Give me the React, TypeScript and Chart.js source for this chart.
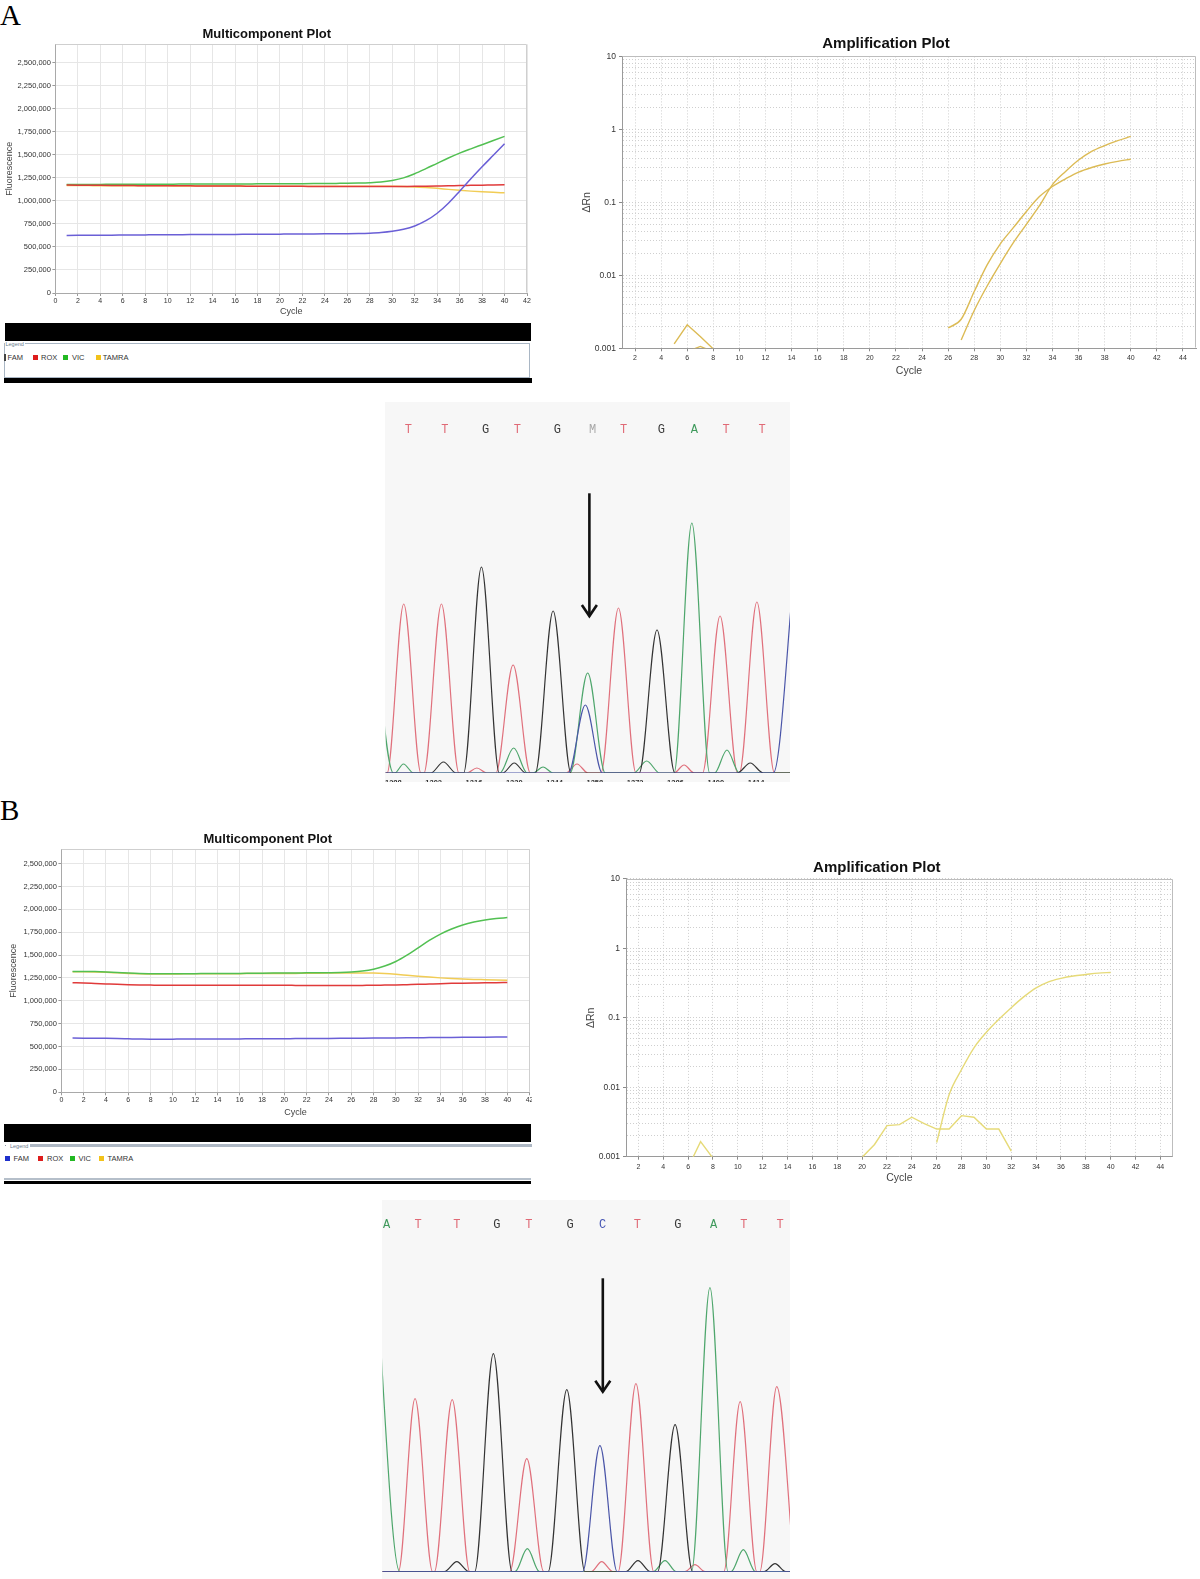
import React, { useEffect, useRef } from "react";
import { Chart, registerables } from "chart.js";

Chart.register(...registerables);

// ---------------- DATA ----------------
const CYCLES = [1, 2, 3, 4, 5, 6, 7, 8, 9, 10, 11, 12, 13, 14, 15, 16, 17, 18, 19, 20, 21, 22, 23, 24, 25, 26, 27, 28, 29, 30, 31, 32, 33, 34, 35, 36, 37, 38, 39, 40];
const MC_X_TICKS = [0, 2, 4, 6, 8, 10, 12, 14, 16, 18, 20, 22, 24, 26, 28, 30, 32, 34, 36, 38, 40, 42];
const MC_Y_TICKS = [0, 250000, 500000, 750000, 1000000, 1250000, 1500000, 1750000, 2000000, 2250000, 2500000];
const DYES = ["FAM", "ROX", "VIC", "TAMRA"];

// Panel A – multicomponent fluorescence
const A_FAM = [625000, 626000, 627000, 628000, 628000, 629000, 630000, 631000, 632000, 632000, 633000, 634000, 634000, 635000, 636000, 636000, 637000, 638000, 638000, 639000, 640000, 640000, 641000, 642000, 643000, 644000, 646000, 650000, 657000, 670000, 692000, 728000, 785000, 866000, 975000, 1105000, 1240000, 1370000, 1495000, 1620000];
const A_ROX = [1172000, 1171000, 1170000, 1169000, 1168000, 1167000, 1166000, 1165000, 1165000, 1164000, 1163000, 1163000, 1162000, 1162000, 1161000, 1161000, 1160000, 1160000, 1159000, 1159000, 1158000, 1158000, 1157000, 1157000, 1157000, 1156000, 1156000, 1156000, 1156000, 1156000, 1157000, 1158000, 1160000, 1162000, 1164000, 1167000, 1169000, 1171000, 1173000, 1175000];
const A_VIC = [1178000, 1178000, 1179000, 1179000, 1180000, 1180000, 1180000, 1181000, 1181000, 1181000, 1182000, 1182000, 1182000, 1183000, 1183000, 1184000, 1184000, 1185000, 1185000, 1186000, 1186000, 1187000, 1188000, 1189000, 1190000, 1191000, 1193000, 1197000, 1205000, 1222000, 1250000, 1295000, 1350000, 1408000, 1465000, 1518000, 1565000, 1610000, 1655000, 1700000];
const A_TAMRA = [1168000, 1167000, 1166000, 1165000, 1165000, 1164000, 1164000, 1163000, 1163000, 1163000, 1162000, 1162000, 1162000, 1161000, 1161000, 1161000, 1160000, 1160000, 1160000, 1160000, 1160000, 1160000, 1160000, 1160000, 1160000, 1160000, 1160000, 1159000, 1159000, 1158000, 1156000, 1152000, 1145000, 1136000, 1125000, 1115000, 1106000, 1099000, 1093000, 1088000];

// Panel B – multicomponent fluorescence
const B_FAM = [593000, 592000, 591000, 590000, 588000, 585000, 582000, 580000, 580000, 581000, 582000, 582000, 583000, 583000, 584000, 584000, 585000, 585000, 586000, 586000, 587000, 587000, 588000, 589000, 590000, 591000, 592000, 593000, 594000, 595000, 596000, 597000, 598000, 599000, 600000, 601000, 602000, 603000, 604000, 605000];
const B_ROX = [1198000, 1195000, 1190000, 1185000, 1180000, 1176000, 1173000, 1172000, 1171000, 1171000, 1171000, 1171000, 1171000, 1171000, 1171000, 1170000, 1170000, 1170000, 1170000, 1170000, 1169000, 1168000, 1168000, 1168000, 1168000, 1168000, 1169000, 1170000, 1172000, 1174000, 1177000, 1180000, 1184000, 1188000, 1191000, 1193000, 1195000, 1197000, 1198000, 1200000];
const B_VIC = [1322000, 1322000, 1320000, 1316000, 1310000, 1303000, 1298000, 1296000, 1295000, 1295000, 1296000, 1297000, 1298000, 1299000, 1300000, 1300000, 1301000, 1302000, 1303000, 1304000, 1305000, 1306000, 1307000, 1308000, 1310000, 1315000, 1325000, 1345000, 1380000, 1430000, 1500000, 1580000, 1660000, 1730000, 1785000, 1830000, 1862000, 1885000, 1900000, 1910000];
const B_TAMRA = [1318000, 1318000, 1316000, 1312000, 1306000, 1300000, 1296000, 1294000, 1294000, 1294000, 1295000, 1295000, 1296000, 1296000, 1297000, 1297000, 1298000, 1298000, 1299000, 1299000, 1300000, 1301000, 1302000, 1303000, 1304000, 1305000, 1305000, 1303000, 1298000, 1290000, 1280000, 1270000, 1260000, 1251000, 1244000, 1238000, 1234000, 1231000, 1228000, 1225000];

// Amplification plots (ΔRn, log scale)
const AMP_X_TICKS = [2, 4, 6, 8, 10, 12, 14, 16, 18, 20, 22, 24, 26, 28, 30, 32, 34, 36, 38, 40, 42, 44];
const AMP_Y_GRID = [0.001, 0.002, 0.003, 0.004, 0.005, 0.006, 0.007, 0.008, 0.009, 0.01, 0.02, 0.03, 0.04, 0.05, 0.06, 0.07, 0.08, 0.09, 0.1, 0.2, 0.3, 0.4, 0.5, 0.6, 0.7, 0.8, 0.9, 1, 2, 3, 4, 5, 6, 7, 8, 9, 10];
const AMP_Y_DECADES = [0.001, 0.01, 0.1, 1, 10];
const AMP_Y_LABELS = ["0.001", "0.01", "0.1", "1", "10"];

const AMP_A1_X = [26, 27, 28, 29, 30, 31, 32, 33, 34, 35, 36, 37, 38, 39, 40];
const AMP_A1_Y = [0.0019, 0.0025, 0.006, 0.014, 0.027, 0.045, 0.075, 0.12, 0.165, 0.21, 0.26, 0.3, 0.335, 0.365, 0.39];
const AMP_A2_X = [27, 28, 29, 30, 31, 32, 33, 34, 35, 36, 37, 38, 39, 40];
const AMP_A2_Y = [0.0013, 0.0033, 0.0072, 0.0145, 0.028, 0.05, 0.09, 0.175, 0.265, 0.38, 0.5, 0.6, 0.7, 0.8];
const AMP_A3_X = [5, 6, 7, 8];
const AMP_A3_Y = [0.00115, 0.0021, 0.00145, 0.00098];
const AMP_A4_X = [6, 7, 8];
const AMP_A4_Y = [0.0009, 0.00106, 0.0009];

const AMP_B1_X = [26, 27, 28, 29, 30, 31, 32, 33, 34, 35, 36, 37, 38, 39, 40];
const AMP_B1_Y = [0.0016, 0.0078, 0.018, 0.037, 0.062, 0.095, 0.14, 0.2, 0.27, 0.33, 0.37, 0.4, 0.42, 0.44, 0.45];
const AMP_B2_X = [6, 7, 8];
const AMP_B2_Y = [0.0007, 0.00165, 0.00095];
const AMP_B3_X = [20, 21, 22, 23, 24, 25, 26, 27, 28, 29, 30, 31, 32];
const AMP_B3_Y = [0.00098, 0.0015, 0.0028, 0.0029, 0.0037, 0.003, 0.0025, 0.0025, 0.0039, 0.0037, 0.0025, 0.0025, 0.0012];

// Sequencing chromatograms: [scan position, signal]
const CHROM_A_TICKS = [1288, 1302, 1316, 1330, 1344, 1358, 1372, 1386, 1400, 1414];
const CHROM_A_RED: [number, number][] = [[1284, 0], [1285.8, 0], [1291.6, 169], [1297.6, 0], [1298.6, 0], [1304.7, 169], [1310.8, 0], [1313.5, 0], [1317, 5], [1320.5, 0], [1323.6, 0], [1329.6, 108], [1335.6, 0], [1348, 0], [1351.8, 9], [1355.6, 0], [1360.1, 0], [1366.2, 165], [1372.3, 0], [1385.5, 0], [1389, 8], [1392.5, 0], [1395.4, 0], [1401.5, 157], [1407.6, 0], [1408.2, 0], [1414.3, 171], [1420.4, 0], [1428, 0]];
const CHROM_A_BLACK: [number, number][] = [[1284, 0], [1301, 0], [1305.4, 11], [1309.8, 0], [1312.4, 0], [1318.6, 206], [1324.8, 0], [1326, 0], [1330, 10], [1334, 0], [1337.3, 0], [1343.5, 162], [1349.7, 0], [1373.4, 0], [1379.6, 143], [1385.8, 0], [1407.5, 0], [1412, 10], [1416.5, 0], [1428, 0]];
const CHROM_A_GREEN: [number, number][] = [[1281, 150], [1288, 0], [1288.5, 0], [1291.5, 9], [1295, 0], [1325, 0], [1329.8, 25], [1334.5, 0], [1336.5, 0], [1340, 6], [1343.5, 0], [1349.4, 0], [1355.5, 100], [1361.6, 0], [1371.5, 0], [1376, 12], [1380.5, 0], [1385.5, 0], [1391.7, 250], [1397.9, 0], [1399.6, 0], [1403.9, 23], [1408.2, 0], [1428, 0]];
const CHROM_A_BLUE: [number, number][] = [[1284, 0], [1348.8, 0], [1354.7, 68], [1360.6, 0], [1420, 0], [1427.5, 210]];
const CALLS_A = ["T", "T", "G", "T", "G", "M", "T", "G", "A", "T", "T"];
const CALL_POS_A = [1293.2, 1305.9, 1320.0, 1331.1, 1345.0, 1357.2, 1368.0, 1381.1, 1392.6, 1403.6, 1416.1];

const CHROM_B_RED: [number, number][] = [[1283, 0], [1289.5, 0], [1295.3, 173], [1301.4, 0], [1302, 0], [1308.2, 172], [1314.3, 0], [1328.2, 0], [1334.1, 113], [1340, 0], [1356.5, 0], [1360.1, 10], [1364, 0], [1365.8, 0], [1372, 188], [1378.2, 0], [1389, 0], [1392.5, 7], [1396, 0], [1402.5, 0], [1408.2, 170], [1414, 0], [1415, 0], [1420.9, 185], [1427, 0]];
const CHROM_B_BLACK: [number, number][] = [[1283, 0], [1305.5, 0], [1309.8, 10], [1314, 0], [1316, 0], [1322.5, 218], [1329, 0], [1341.5, 0], [1348, 182], [1354.3, 0], [1368.5, 0], [1372.7, 11], [1377, 0], [1379.5, 0], [1385.6, 147], [1391.7, 0], [1416.5, 0], [1420.3, 8], [1424, 0], [1427, 0]];
const CHROM_B_GREEN: [number, number][] = [[1281, 330], [1290, 0], [1330, 0], [1334.3, 23], [1338.5, 0], [1378, 0], [1382.1, 11], [1386, 0], [1391.3, 0], [1397.7, 284], [1404, 0], [1405, 0], [1409.3, 22], [1413.5, 0], [1427, 0]];
const CHROM_B_BLUE: [number, number][] = [[1283, 0], [1353.5, 0], [1359.5, 126], [1365.5, 0], [1427, 0]];
const CALLS_B = ["A", "T", "T", "G", "T", "G", "C", "T", "G", "A", "T", "T"];
const CALL_POS_B = [1285.4, 1296.4, 1309.8, 1323.7, 1334.8, 1349.1, 1360.4, 1372.5, 1386.6, 1399.0, 1409.5, 1422.1];

// ---------------- STYLE ----------------
const SANS = "'Liberation Sans', Arial, Helvetica, sans-serif";
const SERIF = "'Liberation Serif', 'Times New Roman', serif";
const MONO = "'Liberation Mono', 'Courier New', monospace";
const DYE_LINE = { FAM: "#6a5fd6", ROX: "#e03a3a", VIC: "#52c052", TAMRA: "#f1cc55" } as Record<string, string>;
const DYE_SQUARE = { FAM: "#1f30cc", ROX: "#dd1c1c", VIC: "#22b822", TAMRA: "#f2c21a" } as Record<string, string>;
const BASE_COLORS: Record<string, string> = { T: "#e06a76", G: "#3a3a3a", A: "#3f9a5c", C: "#4656b4", M: "#a8a8a8" };
const TRACE = { red: "#e0707c", black: "#333333", green: "#4ea66c", blue: "#4a55a8" };

type Geo = {
  cx: number; cy: number; cw: number; ch: number;
  l: number; t: number; r: number; b: number;
  titleX: number; titleY: number; titleSize: number;
  yTitleX: number; yTitleSize: number;
  xTitleY: number; xTitleSize: number;
};

function solve(g: Geo) {
  const padL = 2 * g.titleX - g.r - g.cx;
  const padR = g.cx + g.cw - g.r;
  const tlh = g.titleSize * 1.2;
  const ylh = g.yTitleSize * 1.2;
  const xlh = g.xTitleSize * 1.2;
  return {
    padding: { left: padL, right: padR, top: 0, bottom: 0 },
    titlePad: { top: g.titleY - g.cy - tlh / 2, bottom: g.t - g.titleY - tlh / 2 },
    yW: g.l - g.cx - padL,
    yTitlePad: { top: g.yTitleX - g.cx - padL - ylh / 2, bottom: 0 },
    xH: g.cy + g.ch - g.b,
    xTitlePad: { top: 0, bottom: g.cy + g.ch - g.xTitleY - xlh / 2 },
  };
}

const framePlugin = (color: string) => ({
  id: "frameTR",
  beforeDatasetsDraw(chart: any) {
    const { ctx, chartArea: a } = chart;
    ctx.save();
    ctx.strokeStyle = color;
    ctx.lineWidth = 1;
    const L = Math.round(a.left) + 0.5;
    const T = Math.round(a.top) + 0.5;
    const R = Math.round(a.right) - 0.5;
    const B = Math.round(a.bottom) - 0.5;
    ctx.beginPath();
    ctx.moveTo(L, T);
    ctx.lineTo(R, T);
    ctx.lineTo(R, B);
    ctx.stroke();
    ctx.restore();
  },
});

const BASE_OPTS = { animation: false, responsive: false, maintainAspectRatio: false, devicePixelRatio: 1, events: [] as string[] };

function mcConfig(geo: Geo, values: number[][], yMax: number) {
  const L = solve(geo);
  return {
    type: "line",
    data: {
      datasets: DYES.map((d, k) => ({
        label: d,
        data: CYCLES.map((c, i) => ({ x: c, y: values[k][i] })),
        borderColor: DYE_LINE[d],
        borderWidth: 1.5,
        pointRadius: 0,
        fill: false,
        cubicInterpolationMode: "monotone",
      })),
    },
    options: {
      ...BASE_OPTS,
      layout: { padding: L.padding },
      plugins: {
        legend: { display: false },
        tooltip: { enabled: false },
        title: { display: true, text: "Multicomponent Plot", color: "#111", font: { family: SANS, size: geo.titleSize, weight: "bold" }, padding: L.titlePad },
      },
      scales: {
        x: {
          type: "linear", min: 0, max: 42,
          afterBuildTicks: (s: any) => { s.ticks = MC_X_TICKS.map((v) => ({ value: v })); },
          afterFit: (s: any) => { s.height = L.xH; },
          grid: { color: "#e6e6e6", tickLength: 3, tickColor: "#9a9a9a" },
          border: { color: "#a9a9a9" },
          ticks: { autoSkip: false, maxRotation: 0, padding: 1, color: "#333", font: { family: SANS, size: 7 } },
          title: { display: true, text: "Cycle", color: "#444", font: { family: SANS, size: geo.xTitleSize }, padding: L.xTitlePad },
        },
        y: {
          type: "linear", min: 0, max: yMax,
          afterBuildTicks: (s: any) => { s.ticks = MC_Y_TICKS.map((v) => ({ value: v })); },
          afterFit: (s: any) => { s.width = L.yW; },
          grid: { color: "#e6e6e6", tickLength: 3, tickColor: "#9a9a9a" },
          border: { color: "#a9a9a9" },
          ticks: { autoSkip: false, padding: 1.5, color: "#333", font: { family: SANS, size: 7.5 }, callback: (v: any) => Number(v).toLocaleString("en-US") },
          title: { display: true, text: "Fluorescence", color: "#444", font: { family: SANS, size: geo.yTitleSize }, padding: L.yTitlePad },
        },
      },
    },
    plugins: [framePlugin("#cfcfcf")],
  };
}

type AmpSeries = { xs: number[]; ys: number[]; smooth: boolean };

function ampConfig(geo: Geo, series: AmpSeries[], color: string) {
  const L = solve(geo);
  return {
    type: "line",
    data: {
      datasets: series.map((s) => ({
        data: s.xs.map((x, i) => ({ x, y: s.ys[i] })),
        borderColor: color,
        borderWidth: 1.4,
        pointRadius: 0,
        fill: false,
        cubicInterpolationMode: s.smooth ? "monotone" : "default",
        tension: 0,
      })),
    },
    options: {
      ...BASE_OPTS,
      layout: { padding: L.padding },
      plugins: {
        legend: { display: false },
        tooltip: { enabled: false },
        title: { display: true, text: "Amplification Plot", color: "#111", font: { family: SANS, size: geo.titleSize, weight: "bold" }, padding: L.titlePad },
      },
      scales: {
        x: {
          type: "linear", min: 1, max: 45,
          afterBuildTicks: (s: any) => { s.ticks = AMP_X_TICKS.map((v) => ({ value: v })); },
          afterFit: (s: any) => { s.height = L.xH; },
          grid: { color: "#cfcfcf", tickLength: 3, tickColor: "#8a8a8a" },
          border: { color: "#9a9a9a", dash: [1, 2] },
          ticks: { autoSkip: false, maxRotation: 0, padding: 3, color: "#333", font: { family: SANS, size: 7 } },
          title: { display: true, text: "Cycle", color: "#444", font: { family: SANS, size: geo.xTitleSize }, padding: L.xTitlePad },
        },
        y: {
          type: "logarithmic", min: 0.001, max: 10,
          afterBuildTicks: (s: any) => { s.ticks = AMP_Y_GRID.map((v) => ({ value: v })); },
          afterFit: (s: any) => { s.width = L.yW; },
          grid: {
            color: "#cfcfcf", tickLength: 3,
            tickColor: (c: any) => (c.tick && AMP_Y_DECADES.indexOf(c.tick.value) >= 0 ? "#8a8a8a" : "rgba(0,0,0,0)"),
          },
          border: { color: "#9a9a9a", dash: [1, 2] },
          ticks: {
            autoSkip: false, padding: 3, color: "#333", font: { family: SANS, size: 8.5 },
            callback: (v: any) => { const i = AMP_Y_DECADES.indexOf(Number(v)); return i >= 0 ? AMP_Y_LABELS[i] : ""; },
          },
          title: { display: true, text: "ΔRn", color: "#444", font: { family: SANS, size: geo.yTitleSize }, padding: L.yTitlePad },
        },
      },
    },
    plugins: [framePlugin("#bdbdbd")],
  };
}

type ChromOpts = {
  range: [number, number]; yMax: number;
  padding: { left: number; top: number; right: number; bottom: number };
  traces: { pts: [number, number][]; color: string }[];
  ticks: number[] | null; xH: number;
  calls: string[]; pos: number[]; letterY: number;
  arrowX: number; arrowTop: number; arrowBottom: number;
};

function chromConfig(o: ChromOpts) {
  const annot = {
    id: "chromAnnot",
    afterDatasetsDraw(chart: any) {
      const { ctx, scales } = chart;
      const x = scales.x, y = scales.y;
      ctx.save();
      ctx.font = `12px ${MONO}`;
      ctx.textAlign = "center";
      ctx.textBaseline = "middle";
      o.calls.forEach((c, i) => {
        ctx.fillStyle = BASE_COLORS[c];
        ctx.fillText(c, x.getPixelForValue(o.pos[i]), y.getPixelForValue(o.letterY));
      });
      const ax = x.getPixelForValue(o.arrowX);
      const at = y.getPixelForValue(o.arrowTop);
      const ab = y.getPixelForValue(o.arrowBottom);
      ctx.strokeStyle = "#111";
      ctx.lineWidth = 2.6;
      ctx.beginPath();
      ctx.moveTo(ax, at);
      ctx.lineTo(ax, ab);
      ctx.stroke();
      ctx.beginPath();
      ctx.moveTo(ax - 7.5, ab - 11);
      ctx.lineTo(ax, ab);
      ctx.lineTo(ax + 7.5, ab - 11);
      ctx.stroke();
      ctx.restore();
    },
  };
  return {
    type: "line",
    data: {
      datasets: o.traces.map((t) => ({
        data: t.pts.map((p) => ({ x: p[0], y: p[1] })),
        borderColor: t.color,
        borderWidth: 1.2,
        pointRadius: 0,
        fill: false,
        cubicInterpolationMode: "monotone",
      })),
    },
    options: {
      ...BASE_OPTS,
      layout: { padding: o.padding },
      plugins: { legend: { display: false }, tooltip: { enabled: false }, title: { display: false } },
      scales: {
        x: {
          type: "linear", min: o.range[0], max: o.range[1],
          display: o.ticks !== null,
          afterBuildTicks: (s: any) => { if (o.ticks) s.ticks = o.ticks.map((v) => ({ value: v })); },
          afterFit: (s: any) => { s.height = o.xH; s.paddingLeft = 0; s.paddingRight = 0; },
          grid: { display: false, drawTicks: false, tickLength: 0 },
          border: { display: false },
          ticks: { autoSkip: false, maxRotation: 0, padding: 5, color: "#333", font: { family: SANS, size: 7.5, weight: "bold" }, callback: (v: any) => String(v) },
        },
        y: { type: "linear", min: 0, max: o.yMax, display: false },
      },
    },
    plugins: [annot],
  };
}

// ---------------- COMPONENTS ----------------
function ChartBox(props: { x: number; y: number; w: number; h: number; clipW?: number; clipH?: number; bg?: string; make: () => any }) {
  const ref = useRef<HTMLCanvasElement | null>(null);
  useEffect(() => {
    const chart = new Chart(ref.current as HTMLCanvasElement, props.make());
    return () => chart.destroy();
  }, []);
  return (
    <div style={{ position: "absolute", left: props.x, top: props.y, width: props.clipW ?? props.w, height: props.clipH ?? props.h, overflow: "hidden", background: props.bg ?? "transparent" }}>
      <canvas ref={ref} width={props.w} height={props.h} style={{ display: "block", width: props.w, height: props.h }} />
    </div>
  );
}

const abs = (left: number, top: number, extra: React.CSSProperties = {}): React.CSSProperties => ({ position: "absolute", left, top, ...extra });

function LegendItem({ x, cy, color, label, textX, bar }: { x: number; cy: number; color: string; label: string; textX: number; bar?: boolean }) {
  return (
    <>
      {bar ? (
        <div style={abs(x, cy - 3.5, { width: 1.5, height: 7, background: "#444" })} />
      ) : (
        <div style={abs(x, cy - 2.5, { width: 5, height: 5, background: color })} />
      )}
      <div style={abs(textX, cy - 4.5, { font: `7.5px ${SANS}`, lineHeight: "9px", color: "#333", whiteSpace: "nowrap" })}>{label}</div>
    </>
  );
}

const GEO_A1: Geo = { cx: 0, cy: 18, cw: 545, ch: 302, l: 55.4, t: 44.3, r: 527, b: 293, titleX: 266.8, titleY: 34.7, titleSize: 13, yTitleX: 10, yTitleSize: 9, xTitleY: 312, xTitleSize: 9 };
const GEO_A2: Geo = { cx: 560, cy: 28, cw: 640, ch: 350, l: 622, t: 56.4, r: 1196, b: 348.3, titleX: 886, titleY: 44, titleSize: 15, yTitleX: 587, yTitleSize: 10.5, xTitleY: 371, xTitleSize: 10.5 };
const GEO_B1: Geo = { cx: 0, cy: 826, cw: 560, ch: 294, l: 61.4, t: 849, r: 529.6, b: 1092.3, titleX: 267.8, titleY: 839, titleSize: 13, yTitleX: 14, yTitleSize: 9, xTitleY: 1113, xTitleSize: 9 };
const GEO_B2: Geo = { cx: 560, cy: 850, cw: 640, ch: 340, l: 626, t: 878.9, r: 1172.8, b: 1156.7, titleX: 876.8, titleY: 867.5, titleSize: 15, yTitleX: 591, yTitleSize: 10.5, xTitleY: 1178.5, xTitleSize: 10.5 };

export default function App() {
  return (
    <div style={{ position: "absolute", left: 0, top: 0, width: 1200, height: 1579, background: "#fff", overflow: "hidden" }}>
      {/* Panel letters */}
      <div style={abs(0, 1, { font: `29px ${SERIF}`, lineHeight: "29px", color: "#000" })}>A</div>
      <div style={abs(0, 796, { font: `29px ${SERIF}`, lineHeight: "29px", color: "#000" })}>B</div>

      {/* A: multicomponent */}
      <ChartBox x={GEO_A1.cx} y={GEO_A1.cy} w={GEO_A1.cw} h={GEO_A1.ch} make={() => mcConfig(GEO_A1, [A_FAM, A_ROX, A_VIC, A_TAMRA], 2700000)} />
      <div style={abs(5, 322.5, { width: 526, height: 18, background: "#000" })} />
      <div style={abs(4, 342.5, { width: 526, height: 35, border: "1.5px solid #a9b6c4", boxSizing: "border-box" })} />
      <div style={abs(4.5, 341, { font: `5.5px ${SANS}`, lineHeight: "6px", color: "#6b7b8c", background: "#fff", padding: "0 1px" })}>Legend</div>
      <LegendItem x={4} cy={357.7} color={DYE_SQUARE.FAM} label="FAM" textX={7.5} bar />
      <LegendItem x={32.5} cy={357.7} color={DYE_SQUARE.ROX} label="ROX" textX={41} />
      <LegendItem x={63.3} cy={357.7} color={DYE_SQUARE.VIC} label="VIC" textX={72} />
      <LegendItem x={95.5} cy={357.7} color={DYE_SQUARE.TAMRA} label="TAMRA" textX={102.7} />
      <div style={abs(4, 378, { width: 528, height: 4.5, background: "#000" })} />

      {/* A: amplification */}
      <ChartBox x={GEO_A2.cx} y={GEO_A2.cy} w={GEO_A2.cw} h={GEO_A2.ch} make={() => ampConfig(GEO_A2, [
        { xs: AMP_A1_X, ys: AMP_A1_Y, smooth: true },
        { xs: AMP_A2_X, ys: AMP_A2_Y, smooth: true },
        { xs: AMP_A3_X, ys: AMP_A3_Y, smooth: false },
        { xs: AMP_A4_X, ys: AMP_A4_Y, smooth: false },
      ], "#dcbb55")} />

      {/* A: chromatogram */}
      <ChartBox x={385} y={402} w={405} h={400} clipH={380} bg="#f7f7f7" make={() => chromConfig({
        range: [1285.3, 1425.8], yMax: 370.3,
        padding: { left: 0.6, top: 0.7, right: 0, bottom: 0 },
        traces: [
          { pts: CHROM_A_BLUE, color: TRACE.blue },
          { pts: CHROM_A_BLACK, color: TRACE.black },
          { pts: CHROM_A_GREEN, color: TRACE.green },
          { pts: CHROM_A_RED, color: TRACE.red },
        ],
        ticks: CHROM_A_TICKS, xH: 29,
        calls: CALLS_A, pos: CALL_POS_A, letterY: 343,
        arrowX: 1356.1, arrowTop: 279.7, arrowBottom: 156.9,
      })} />

      {/* B: multicomponent */}
      <ChartBox x={GEO_B1.cx} y={GEO_B1.cy} w={GEO_B1.cw} h={GEO_B1.ch} clipW={531.5} make={() => mcConfig(GEO_B1, [B_FAM, B_ROX, B_VIC, B_TAMRA], 2660000)} />
      <div style={abs(4, 1124, { width: 527, height: 17.7, background: "#000" })} />
      <div style={abs(29.5, 1144.3, { width: 502, height: 2.5, background: "#aeb8c4" })} />
      <div style={abs(4.5, 1144.5, { width: 1.5, height: 1.5, background: "#8a96a4" })} />
      <div style={abs(10, 1143, { font: `5.5px ${SANS}`, lineHeight: "6px", color: "#6b7b8c" })}>Legend</div>
      <LegendItem x={4.5} cy={1158.3} color={DYE_SQUARE.FAM} label="FAM" textX={13.5} />
      <LegendItem x={38} cy={1158.3} color={DYE_SQUARE.ROX} label="ROX" textX={47} />
      <LegendItem x={70} cy={1158.3} color={DYE_SQUARE.VIC} label="VIC" textX={78.5} />
      <LegendItem x={99.3} cy={1158.3} color={DYE_SQUARE.TAMRA} label="TAMRA" textX={107.5} />
      <div style={abs(4, 1177.7, { width: 527, height: 2.3, background: "#b5bfca" })} />
      <div style={abs(4, 1181, { width: 527, height: 3.3, background: "#000" })} />

      {/* B: amplification */}
      <ChartBox x={GEO_B2.cx} y={GEO_B2.cy} w={GEO_B2.cw} h={GEO_B2.ch} make={() => ampConfig(GEO_B2, [
        { xs: AMP_B1_X, ys: AMP_B1_Y, smooth: true },
        { xs: AMP_B2_X, ys: AMP_B2_Y, smooth: false },
        { xs: AMP_B3_X, ys: AMP_B3_Y, smooth: false },
      ], "#e6da78")} />

      {/* B: chromatogram */}
      <ChartBox x={382} y={1200} w={408} h={379} bg="#f7f7f7" make={() => chromConfig({
        range: [1284, 1425.5], yMax: 371.7,
        padding: { left: 0.5, top: 0, right: 0, bottom: 7.3 },
        traces: [
          { pts: CHROM_B_BLUE, color: TRACE.blue },
          { pts: CHROM_B_BLACK, color: TRACE.black },
          { pts: CHROM_B_GREEN, color: TRACE.green },
          { pts: CHROM_B_RED, color: TRACE.red },
        ],
        ticks: null, xH: 0,
        calls: CALLS_B, pos: CALL_POS_B, letterY: 346.7,
        arrowX: 1360.5, arrowTop: 293.4, arrowBottom: 180,
      })} />
    </div>
  );
}
